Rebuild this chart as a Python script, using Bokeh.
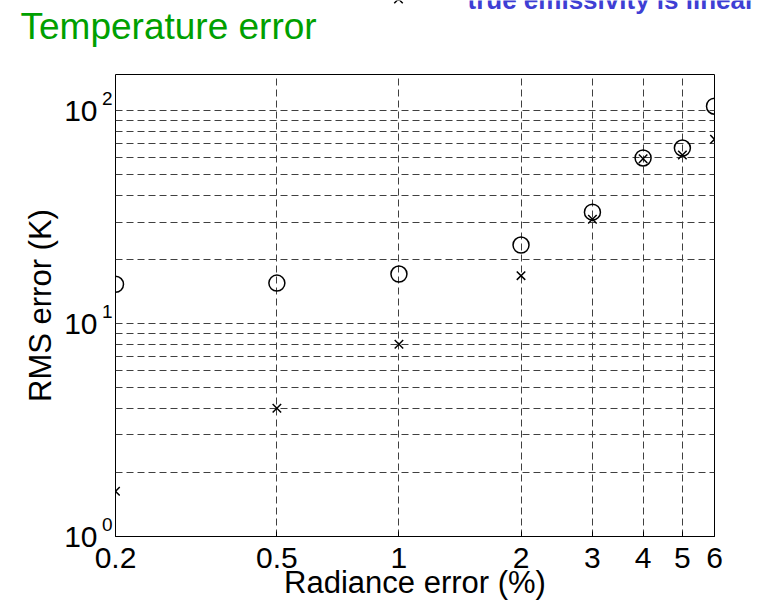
import math
from bokeh.plotting import figure
from bokeh.layouts import column
from bokeh.models import FixedTicker, LogAxis, Range1d, LogScale
from bokeh.core.properties import value
from bokeh.embed import file_html
from bokeh.resources import INLINE

# ---- data ----
radiance_error = [0.2, 0.5, 1, 2, 3, 4, 5, 6]
rms_circle = [15.3, 15.5, 17.1, 23.4, 33.4, 60.0, 66.8, 105.0]
rms_cross = [1.63, 4.0, 8.0, 16.8, 30.9, 59.5, 62.0, 73.4]

x_ticks = [0.2, 0.5, 1, 2, 3, 4, 5, 6]
x_tick_labels = ["0.2", "0.5", "1", "2", "3", "4", "5", "6"]
y_ticks = [1, 10, 100]
y_minor = [2, 3, 4, 5, 6, 7, 8, 9, 20, 30, 40, 50, 60, 70, 80, 90]
y_base = ["10", "10", "10"]
y_exp = ["0", "1", "2"]

title_text = "Temperature error"
x_label = "Radiance error (%)"
y_label = "RMS error (K)"
legend_text = "true emissivity is linear"

FONT = "Liberation Sans"
GRID = "#404040"
W = 767
HEADER_H = 73
FRAME_H = 462
Y_RANGE = (1, 148)

# ---------------- header (title + partly hidden legend) ----------------
h = figure(width=W, height=HEADER_H, x_range=(0, W), y_range=(HEADER_H, 0),
           x_axis_location=None, y_axis_location=None,
           output_backend="svg", toolbar_location=None,
           min_border_left=0, min_border_right=0, min_border_top=0, min_border_bottom=0)
h.frame_align = False
h.outline_line_color = None
h.background_fill_color = "white"
h.border_fill_color = "white"
h.xgrid.visible = False
h.ygrid.visible = False
h.text(x=[20], y=[26], text=[title_text], text_font=value(FONT),
       text_font_size="37px", text_color="#00a000",
       text_align="left", text_baseline="alphabetic")
h.scatter(x=[398], y=[-1.5], marker="x", size=12, line_color="black", line_width=1.5)
h.text(x=[467], y=[-1], text=[legend_text], text_font=value(FONT),
       text_font_size="26px", text_font_style="bold", text_color="#3f3fd4",
       text_align="left", text_baseline="alphabetic")

# ---------------- main plot ----------------
p = figure(width=W, height=603 - HEADER_H, x_axis_type="log", y_axis_type="log",
           x_range=(0.2, 6), y_range=Y_RANGE,
           output_backend="svg", toolbar_location=None,
           min_border_left=115, min_border_right=53,
           min_border_top=1, min_border_bottom=603 - HEADER_H - 1 - FRAME_H)
p.frame_align = False
p.background_fill_color = "white"
p.border_fill_color = "white"
p.outline_line_color = "black"
p.outline_line_width = 1

# x axis
p.xaxis.ticker = FixedTicker(ticks=x_ticks, minor_ticks=[])
p.xaxis.major_label_overrides = {t: l for t, l in zip(x_ticks, x_tick_labels)}
p.xaxis.major_label_text_font = FONT
p.xaxis.major_label_text_font_size = "30px"
p.xaxis.major_label_text_color = "black"
p.xaxis.major_label_standoff = 11
p.xaxis.major_tick_in = 5
p.xaxis.major_tick_out = 0
p.xaxis.minor_tick_in = 0
p.xaxis.minor_tick_out = 0
p.xaxis.axis_line_color = "black"
p.xaxis.axis_label = x_label
p.xaxis.axis_label_text_font = FONT
p.xaxis.axis_label_text_font_size = "31px"
p.xaxis.axis_label_text_font_style = "normal"
p.xaxis.axis_label_text_color = "black"
p.xaxis.axis_label_standoff = -6

# y axis: "10" labels (outer) + exponent labels (inner, shifted up)
decade_px = FRAME_H / math.log10(Y_RANGE[1] / Y_RANGE[0])
k = 10 ** (12 / decade_px)
p.extra_y_ranges = {"exp": Range1d(Y_RANGE[0] / k, Y_RANGE[1] / k)}
p.extra_y_scales = {"exp": LogScale()}

yb = p.yaxis[0]
yb.ticker = FixedTicker(ticks=y_ticks, minor_ticks=y_minor)
yb.major_label_overrides = {t: b for t, b in zip(y_ticks, y_base)}
yb.major_label_text_font = FONT
yb.major_label_text_font_size = "30px"
yb.major_label_text_color = "black"
yb.major_label_standoff = 1
yb.major_tick_in = 0
yb.major_tick_out = 0
yb.minor_tick_in = 0
yb.minor_tick_out = 0
yb.axis_line_color = None
yb.axis_label = y_label
yb.axis_label_text_font = FONT
yb.axis_label_text_font_size = "31px"
yb.axis_label_text_font_style = "normal"
yb.axis_label_text_color = "black"
yb.axis_label_standoff = 3

ya = LogAxis(y_range_name="exp", ticker=FixedTicker(ticks=y_ticks, minor_ticks=[]),
             major_label_overrides={t: e for t, e in zip(y_ticks, y_exp)},
             major_label_text_font=FONT, major_label_text_font_size="19px",
             major_label_text_color="black", major_label_standoff=3,
             major_tick_in=0, major_tick_out=0, minor_tick_in=0, minor_tick_out=0,
             axis_line_color=None)
p.left = [ya, yb]

# grids
p.xgrid.grid_line_color = GRID
p.xgrid.grid_line_dash = "7 4"
p.xgrid.grid_line_width = 1
p.ygrid.grid_line_color = GRID
p.ygrid.grid_line_dash = "7 4"
p.ygrid.grid_line_width = 1
p.ygrid.minor_grid_line_color = GRID
p.ygrid.minor_grid_line_dash = "7 4"
p.ygrid.minor_grid_line_width = 1

# data
p.scatter(radiance_error, rms_circle, marker="circle", size=16,
          fill_color=None, line_color="black", line_width=1.5)
p.scatter(radiance_error, rms_cross, marker="x", size=12,
          line_color="black", line_width=1.5)

layout = column(h, p, spacing=0)
open("out.html", "w").write(file_html(layout, INLINE))
